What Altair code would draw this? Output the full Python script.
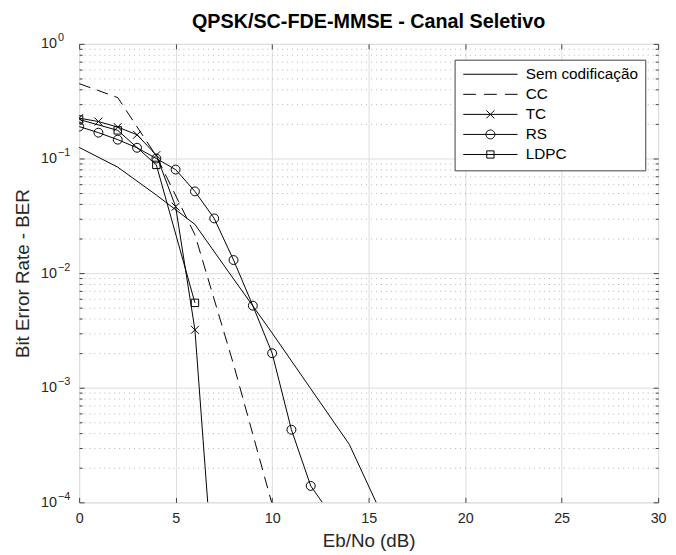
import json
import math
import altair as alt
import pandas as pd

# ---------------- data ----------------
series = ["Sem codificação", "CC", "TC", "RS", "LDPC"]

snr_unc = [0, 2, 4, 6, 8, 10, 12, 14, 16]
ber_unc = [0.125, 0.084, 0.048, 0.0266, 0.0089, 0.0030, 0.00098, 0.00032, 0.00006]

snr_cc = [0, 2, 4, 6, 8, 10]
ber_cc = [0.45, 0.34, 0.105, 0.0216, 0.0016, 0.000096]

snr_tc = [0, 1, 2, 3, 4, 5, 6, 7]
ber_tc = [0.225, 0.21, 0.188, 0.161, 0.107, 0.038, 0.0032, 0.000017]

snr_rs = [0, 1, 2, 3, 4, 5, 6, 7, 8, 9, 10, 11, 12, 13]
ber_rs = [0.19, 0.168, 0.146, 0.124, 0.100, 0.080, 0.0516, 0.030, 0.013,
          0.0052, 0.0020, 0.00043, 0.000139, 0.00008]

snr_ldpc = [0, 2, 4, 6]
ber_ldpc = [0.219, 0.176, 0.088, 0.0055]

x_ticks = [0, 5, 10, 15, 20, 25, 30]
y_ticks = [1e-4, 1e-3, 1e-2, 1e-1, 1]
y_tick_base = "10"
y_tick_exp = ["−4", "−3", "−2", "−1", "0"]
y_minor = [k * 10.0 ** e for e in [-4, -3, -2, -1] for k in range(2, 10)]

title_text = "QPSK/SC-FDE-MMSE - Canal Seletivo"
x_title = "Eb/No (dB)"
y_title = "Bit Error Rate - BER"

# ---------------- table ----------------
rows = []
for name, xs, ys in [(series[0], snr_unc, ber_unc), (series[1], snr_cc, ber_cc),
                     (series[2], snr_tc, ber_tc), (series[3], snr_rs, ber_rs),
                     (series[4], snr_ldpc, ber_ldpc)]:
    for a, b in zip(xs, ys):
        rows.append({"snr": a, "ber": b, "series": name})
df = pd.DataFrame(rows)
legend_df = pd.DataFrame({"series": series})

FONT = "Liberation Sans"
TXT = "#262626"
xscale = alt.Scale(domain=[0, 30], nice=False, zero=False)
yscale = alt.Scale(type="log", domain=[1e-4, 1], nice=False)

exp_expr = ("%s[round(log(datum.value)/LN10)+4]"
            % json.dumps(y_tick_exp, ensure_ascii=False))

base = alt.Chart(df)


def axis_layer(xaxis, yaxis):
    return base.mark_point(opacity=0, clip=True).encode(
        x=alt.X("snr:Q", scale=xscale, axis=xaxis),
        y=alt.Y("ber:Q", scale=yscale, axis=yaxis),
    )


common = dict(domain=False, tickColor="#404040", tickWidth=1, labelFont=FONT,
              labelFontSize=14.5, labelColor=TXT, titleFont=FONT,
              titleFontSize=19, titleFontWeight="normal", titleColor=TXT,
              labelFlush=False, labelOverlap=False)

ax_bottom = alt.Axis(orient="bottom", values=x_ticks, offset=-5, tickSize=5,
                     grid=True, gridColor="#dcdcdc", gridWidth=1, labelPadding=9,
                     format="d", title=x_title, titlePadding=7, **common)
ax_top = alt.Axis(orient="top", values=x_ticks, offset=-5, tickSize=5, grid=False,
                  labels=False, title=None, **common)
ax_left = alt.Axis(orient="left", values=y_ticks, offset=-5, tickSize=5, grid=True,
                   gridColor="#dcdcdc", gridWidth=1, labelPadding=23,
                   labelExpr="'%s'" % y_tick_base, labelAlign="right",
                   title=y_title, titlePadding=8, **common)
ax_left_exp = alt.Axis(orient="left", values=y_ticks, offset=-5, tickSize=5,
                       tickOpacity=0, grid=False, labelPadding=22,
                       labelExpr=exp_expr, labelAlign="left", labelOffset=-6,
                       title=None, **{**common, "labelFontSize": 11})
ax_left_minor = alt.Axis(orient="left", values=y_minor, offset=-3, tickSize=3,
                         grid=True, gridColor="#b4b4b4", gridDash=[1, 4],
                         gridWidth=1, labels=False, title=None, **common)
ax_right = alt.Axis(orient="right", values=y_ticks, offset=-5, tickSize=5,
                    grid=False, labels=False, title=None, **common)
ax_right_minor = alt.Axis(orient="right", values=y_minor, offset=-3, tickSize=3,
                          grid=False, labels=False, title=None, **common)

layers = [
    axis_layer(ax_bottom, ax_left),
    axis_layer(ax_top, ax_left_minor),
    axis_layer(None, ax_left_exp),
    axis_layer(None, ax_right),
    axis_layer(None, ax_right_minor),
]

enc = dict(x=alt.X("snr:Q", scale=xscale, axis=None),
           y=alt.Y("ber:Q", scale=yscale, axis=None),
           detail="series:N")
solid = base.transform_filter(alt.datum.series != "CC").mark_line(
    clip=True, color="black", strokeWidth=1).encode(**enc)
dashed = base.transform_filter(alt.datum.series == "CC").mark_line(
    clip=True, color="black", strokeWidth=1, strokeDash=[12, 7]).encode(**enc)
layers += [solid, dashed]

marker_specs = [("TC", "M-1,-1L1,1M-1,1L1,-1", 64),
                ("RS", "circle", 81),
                ("LDPC", "square", 56)]
for name, shp, sz in marker_specs:
    layers.append(
        base.transform_filter(alt.datum.series == name)
        .mark_point(clip=True, shape=shp, size=sz, filled=False, color="black",
                    strokeWidth=1, opacity=1)
        .encode(x=alt.X("snr:Q", scale=xscale, axis=None),
                y=alt.Y("ber:Q", scale=yscale, axis=None))
    )

# legend glyphs: line sample with the marker in its middle (unit = sqrt(84)/2 px)
r = 0.98
circle_poly = "M" + "L".join(
    "%.3f,%.3f" % (r * math.cos(2 * math.pi * k / 24), r * math.sin(2 * math.pi * k / 24))
    for k in range(24)) + "Z"
legend_paths = [
    "M-6,0L6,0",
    "M-6,0L-3.2,0M-1.4,0L1.4,0M3.2,0L6,0",
    "M-6,0L6,0M-0.87,-0.87L0.87,0.87M-0.87,0.87L0.87,-0.87",
    "M-6,0L6,0" + circle_poly,
    "M-6,0L6,0M-0.8,-0.8L0.8,-0.8L0.8,0.8L-0.8,0.8Z",
]
legend_layer = alt.Chart(legend_df).mark_point(opacity=0.001, color="black",
                                               filled=False).encode(
    x=alt.value(0), y=alt.value(0),
    shape=alt.Shape("series:N", scale=alt.Scale(domain=series, range=legend_paths),
                    legend=alt.Legend(title=None, orient="none", legendX=380,
                                      legendY=16, symbolSize=84,
                                      symbolStrokeWidth=1, symbolStrokeColor="black",
                                      symbolFillColor="transparent", symbolOpacity=1,
                                      symbolOffset=21.5, labelOffset=28,
                                      labelFont=FONT, labelFontSize=15.5,
                                      labelColor="black", padding=7, rowPadding=3.3,
                                      fillColor="white", strokeColor="#404040")),
)
layers.append(legend_layer)

chart = alt.layer(*layers).resolve_axis(x="independent", y="independent").properties(
    width=586, height=464,
    title=alt.TitleParams(title_text, font=FONT, fontSize=20, fontWeight="bold",
                          color="black", anchor="middle", frame="group", offset=0),
    autosize=alt.AutoSizeParams(type="none"),
    padding={"left": 72, "top": 33, "right": 10, "bottom": 50},
).configure_view(stroke="#3c3c3c", strokeWidth=1.2).configure(
    background="white", font=FONT)

chart.save("out.html", embed_options={"renderer": "svg", "actions": False})
